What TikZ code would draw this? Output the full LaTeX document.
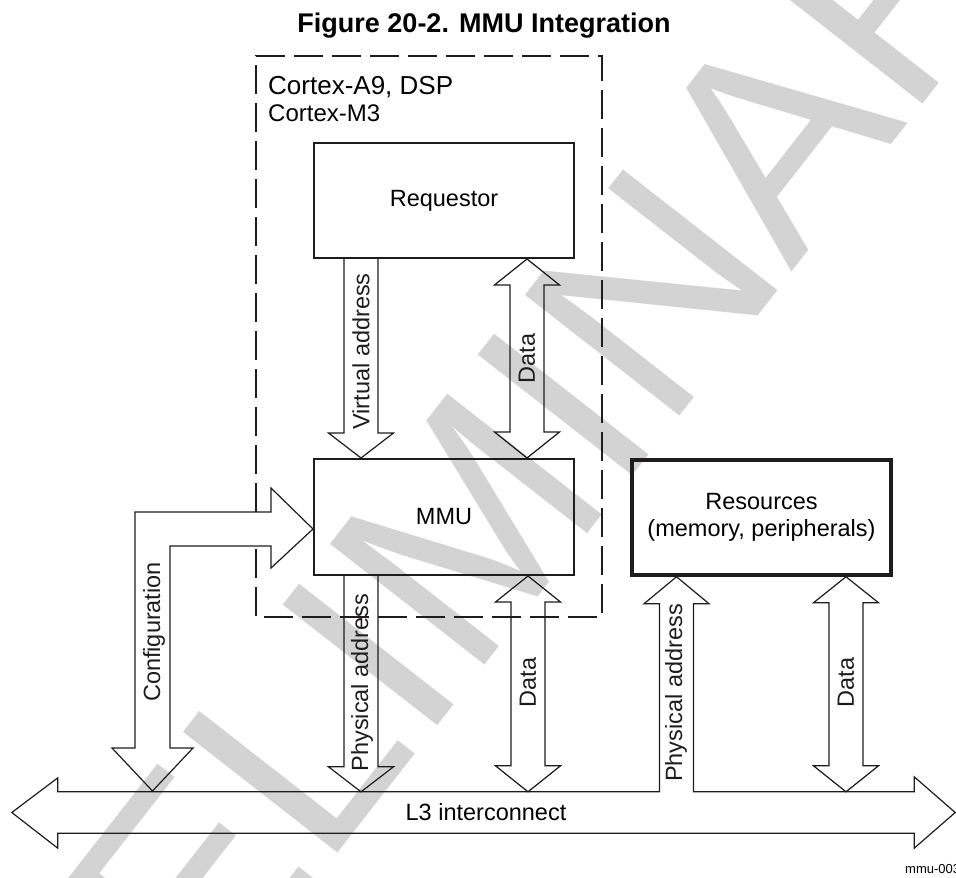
\documentclass[tikz,border=0pt]{standalone}
\usepackage{fontspec}
\setmainfont{Liberation Sans}
\usetikzlibrary{calc}
\definecolor{inkblack}{RGB}{30,28,28}
\definecolor{wmgray}{RGB}{211,211,211}

\tikzset{
  blockbox/.style={draw=inkblack,line width=2pt,minimum width=260pt,minimum height=116pt,
    inner sep=0pt,align=center,font=\fontsize{23.5}{27}\selectfont},
  bus/.style={draw=inkblack,line width=1.2pt},
  busdown/.style={bus,to path={let \p1=(\tikztostart),\p2=(\tikztotarget) in
      (\x1-17pt,\y1) -- (\x1-17pt,\y2+25pt) -- (\x1-32.5pt,\y2+25pt) -- (\x1,\y2)
      -- (\x1+32.5pt,\y2+25pt) -- (\x1+17pt,\y2+25pt) -- (\x1+17pt,\y1)}},
  busboth/.style={bus,to path={let \p1=(\tikztostart),\p2=(\tikztotarget) in
      (\x1,\y1) -- (\x1-32.5pt,\y1-26pt) -- (\x1-17pt,\y1-26pt) -- (\x1-17pt,\y2+26pt)
      -- (\x1-32.5pt,\y2+26pt) -- (\x1,\y2) -- (\x1+32.5pt,\y2+26pt) -- (\x1+17pt,\y2+26pt)
      -- (\x1+17pt,\y1-26pt) -- (\x1+32.5pt,\y1-26pt) -- cycle}},
  buslabel/.style={rotate=90,inner sep=0pt,text=inkblack,font=\fontsize{23.5}{27}\selectfont},
}

\begin{document}
\begin{tikzpicture}[x=1pt,y=-1pt]
\useasboundingbox (0,0) rectangle (956,878);

%% ── watermark ────────────────────────────────────────────────────────────────
\begin{scope}
  \clip (0,0) rectangle (956,878);
  \node[wmgray,rotate=52,anchor=base west,inner sep=0pt,font=\fontsize{285}{285}\selectfont]
    (wm) at (-37,1333) {PRELIMINARY};
\end{scope}

%% ── title ────────────────────────────────────────────────────────────────────
\node[font=\fontsize{27}{30}\selectfont\bfseries,anchor=base,inner sep=0pt] (title)
  at (484,32) {Figure 20-2. MMU Integration};

%% ── processor frame (open where the configuration bus passes) ──────────────
\draw[inkblack,line width=2pt,dash pattern=on 29pt off 9pt]
  (256,512) -- (256,56) -- (602,56) -- (602,617) -- (256,617) -- (256,546);
\node[anchor=base west,inner sep=0pt,font=\fontsize{26}{30}\selectfont] (cpu-a9)
  at (268,94) {Cortex-A9, DSP};
\node[anchor=base west,inner sep=0pt,font=\fontsize{24}{28}\selectfont] (cpu-m3)
  at (268,121) {Cortex-M3};

%% ── blocks ───────────────────────────────────────────────────────────────────
\node[blockbox,minimum height=115pt] (req) at (444,200.5) {Requestor};
\node[blockbox] (mmu) at (444,517) {MMU};
\node[blockbox,line width=3.5pt,minimum width=259pt,minimum height=115pt] (res)
  at (761.5,517.5) {Resources\\(memory, peripherals)};

%% ── L3 interconnect: double bus with the branch up to the resources ─────────
\node[minimum width=856pt,minimum height=41pt,inner sep=0pt,
  font=\fontsize{23.5}{27}\selectfont] (l3) at (486,812.5) {L3 interconnect};
\coordinate (pa-res) at ($(res.south)+(-85,0)$);
\draw[bus] (l3.north west) -- ++(0,-14) -- ($(l3.west)+(-46,0)$)
  -- ($(l3.south west)+(0,15)$) -- (l3.south west) -- (l3.south east)
  -- ($(l3.south east)+(0,15)$) -- ($(l3.east)+(41,0)$)
  -- ($(l3.north east)+(0,-15)$) -- (l3.north east)
  -- ($(pa-res |- l3.north)+(17,0)$) -- ($(pa-res)+(17,27)$) -- ($(pa-res)+(32.5,27)$)
  -- (pa-res) -- ($(pa-res)+(-32.5,27)$) -- ($(pa-res)+(-17,27)$)
  -- ($(pa-res |- l3.north)+(-17,0)$) -- cycle;

%% ── configuration bus: L3 up and over into the MMU ──────────────────────────
\draw[bus] ($(mmu.west)+(0,12)$) -- ++(-42,-41) -- ++(0,24) -- ++(-136,0)
  -- ++(0,236) -- ++(-23,0) -- ++(40.5,43) -- ++(40.5,-43) -- ++(-23,0)
  -- ++(0,-202) -- ++(101,0) -- ++(0,22) -- cycle;

%% ── vertical buses ───────────────────────────────────────────────────────────
\draw[busdown] ($(req.south)+(-83,0)$) to (mmu.north);
\draw[busboth] ($(req.south)+(83,0)$) to (mmu.north);
\draw[busdown] ($(mmu.south)+(-83,0)$) to (l3.north);
\draw[busboth] ($(mmu.south)+(84,0)$) to (l3.north);
\draw[busboth] ($(res.south)+(84.5,0)$) to (l3.north);

%% ── bus labels ───────────────────────────────────────────────────────────────
\node[buslabel] (va-lbl) at (361,351.5) {Virtual address};
\node[buslabel] (d1-lbl) at (527,358.5) {Data};
\node[buslabel] (pa-lbl) at (362,682.5) {Physical address};
\node[buslabel] (d2-lbl) at (528,682.5) {Data};
\node[buslabel] (pr-lbl) at (676,693) {Physical address};
\node[buslabel] (d3-lbl) at (846,682.5) {Data};
\node[buslabel] (cfg-lbl) at (154,632) {Configuration};

%% ── figure tag (cut by the page edge) ────────────────────────────────────────
\begin{scope}
  \clip (0,0) rectangle (956,878);
  \node[anchor=base west,inner sep=0pt,font=\fontsize{13}{15}\selectfont] (tag)
    at (905,873) {mmu-003};
\end{scope}

\end{tikzpicture}
\end{document}
